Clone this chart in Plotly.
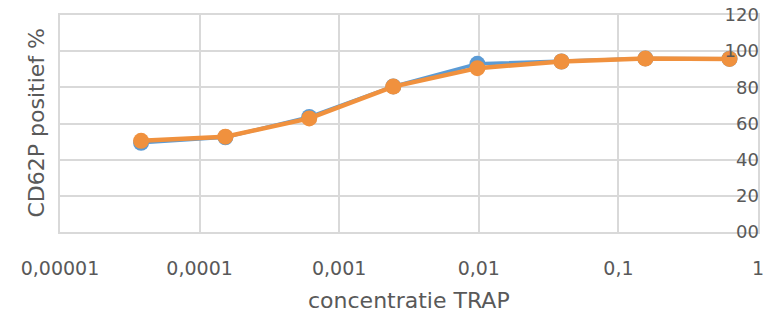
import plotly.graph_objects as go

concentration = [0.0000381, 0.000153, 0.00061, 0.00244, 0.00977, 0.0391, 0.156, 0.625]
series_blue = [49.3, 52.4, 63.6, 80.5, 93.0, 94.3, 96.0, 95.8]
series_orange = [50.4, 52.7, 62.8, 80.4, 90.6, 94.3, 95.9, 95.7]
x_tickvals = [0.00001, 0.0001, 0.001, 0.01, 0.1, 1]
x_ticktext = ["0,00001", "0,0001", "0,001", "0,01", "0,1", "1"]
y_tickvals = [0, 20, 40, 60, 80, 100, 120]
y_ticktext = ["00", "20", "40", "60", "80", "100", "120"]

font_family = "DejaVu Sans, sans-serif"
grey = "#595959"
gridc = "#D9D9D9"

fig = go.Figure()
fig.add_trace(go.Scatter(x=concentration, y=series_blue, mode="lines+markers",
                         line=dict(color="#5B9BD5", width=3.5),
                         marker=dict(size=16, color="#5B9BD5"), name="blue"))
fig.add_trace(go.Scatter(x=concentration, y=series_orange, mode="lines+markers",
                         line=dict(color="#F0913E", width=4.5),
                         marker=dict(size=16, color="#F0913E"), name="orange"))

fig.update_layout(
    width=774, height=317,
    margin=dict(l=60, r=16, t=15, b=85),
    paper_bgcolor="white", plot_bgcolor="white",
    showlegend=False,
    font=dict(family=font_family, color=grey),
)
fig.update_xaxes(type="log", range=[-5, 0], tickvals=x_tickvals, ticktext=x_ticktext,
                 showgrid=True, gridcolor=gridc, gridwidth=1.5,
                 showline=True, linecolor=gridc, linewidth=1.5, mirror=True,
                 tickfont=dict(size=19, color=grey), ticks="", ticklabelstandoff=18,
                 ticklabeloverflow="allow", automargin=False,
                 zeroline=False)
fig.update_yaxes(range=[0, 120], tickvals=y_tickvals, ticktext=y_ticktext,
                 side="right", ticklabelposition="inside",
                 showgrid=True, gridcolor=gridc, gridwidth=1.5,
                 showline=True, linecolor=gridc, linewidth=1.5, mirror=True,
                 zeroline=False, ticks="",
                 ticklabeloverflow="allow", automargin=False,
                 tickfont=dict(size=18, color=grey))
fig.add_annotation(text="CD62P positief %", xref="paper", yref="paper",
                   x=0, y=0.5, xshift=-24, textangle=-90, showarrow=False,
                   xanchor="center", yanchor="middle",
                   font=dict(size=22, color=grey))
fig.add_annotation(text="concentratie TRAP", xref="paper", yref="paper",
                   x=0.5, y=0, yshift=-68, showarrow=False,
                   xanchor="center", yanchor="middle",
                   font=dict(size=22, color=grey))

fig.write_html("out.html", config={"displayModeBar": False},
               post_script="document.body.style.margin='0';")
